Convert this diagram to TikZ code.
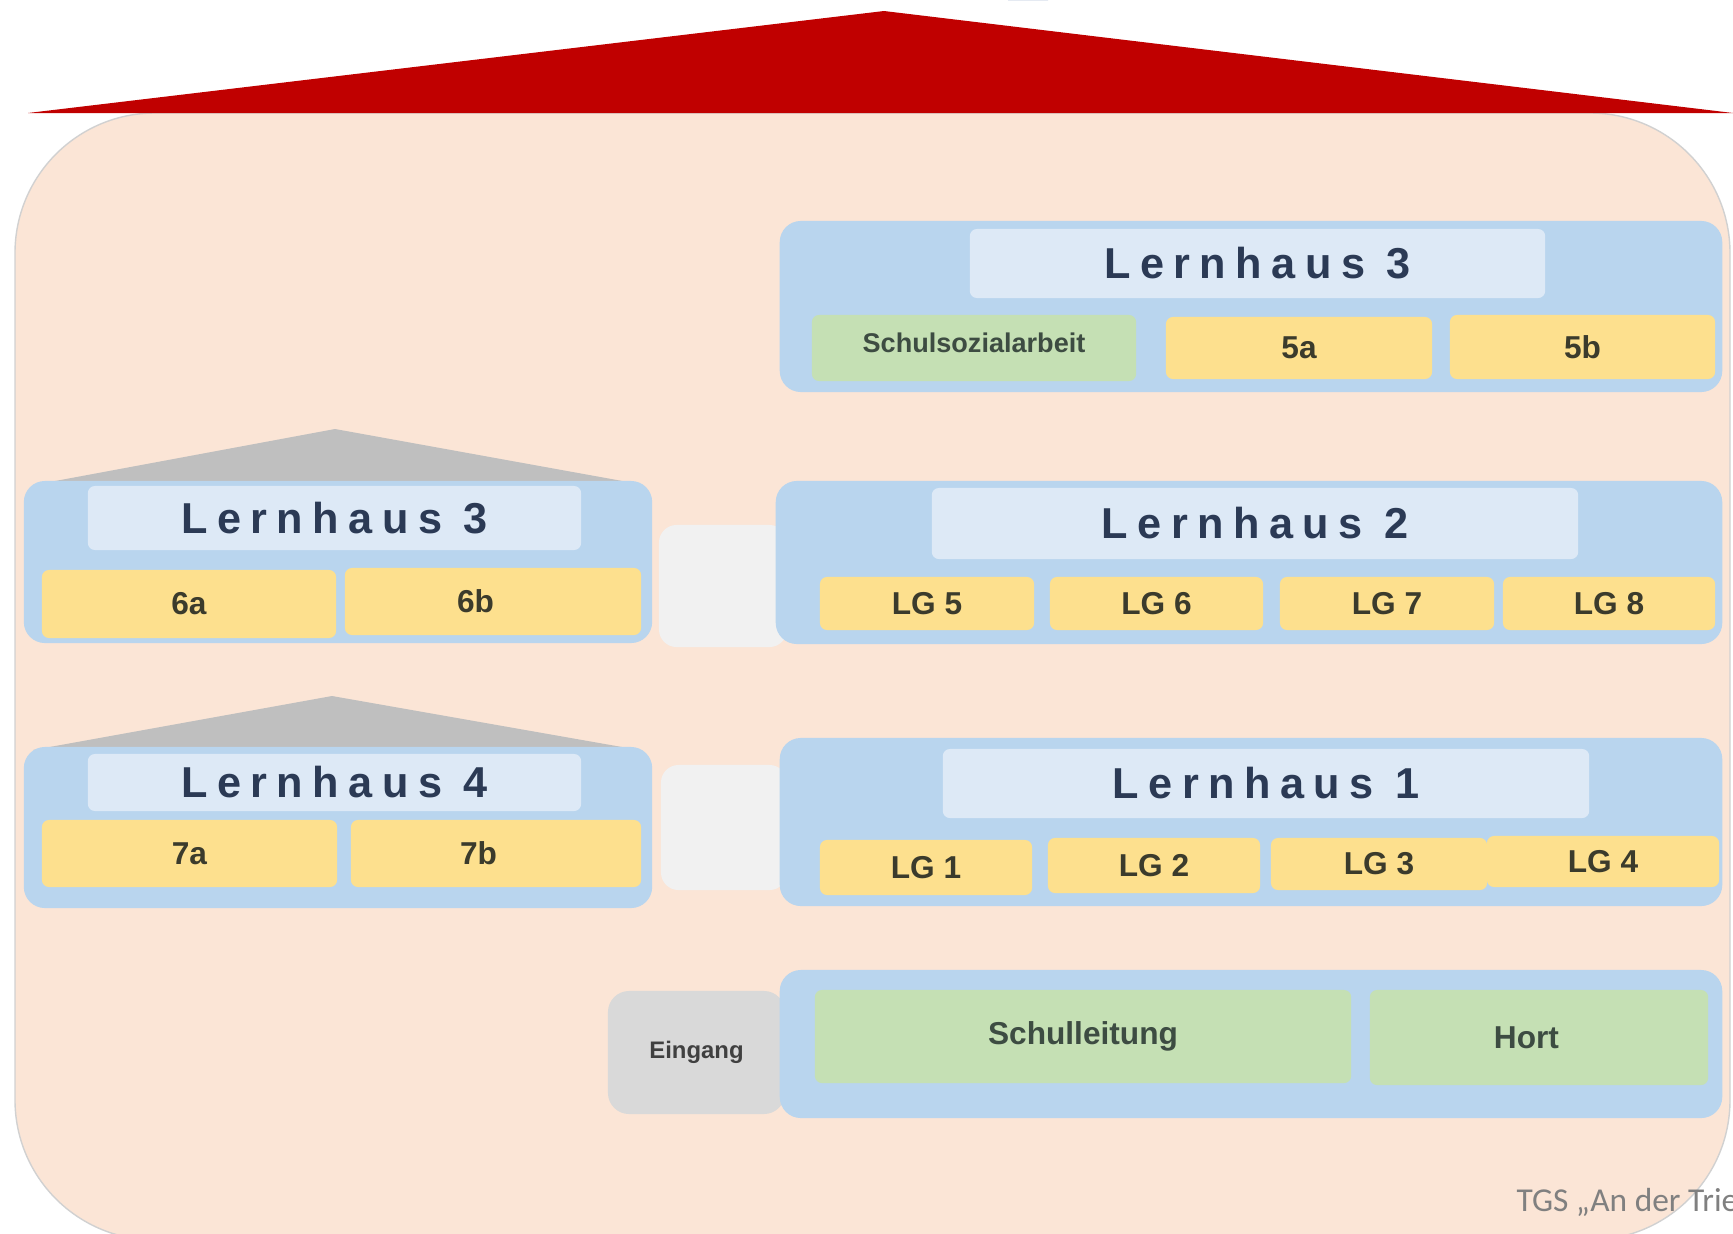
\documentclass[tikz,border=0pt]{standalone}
\usepackage{fontspec}
\setmainfont{Liberation Sans}
\newfontfamily\housefont[LetterSpace=22]{Liberation Sans}
\newfontfamily\notefont{Carlito}
\usepackage{tikz}
\usetikzlibrary{calc}
\definecolor{roofred}{HTML}{C00000}
\definecolor{peach}{HTML}{FBE5D6}
\definecolor{hallblue}{HTML}{B9D5EE}
\definecolor{headblue}{HTML}{DDE9F6}
\definecolor{classyellow}{HTML}{FDE08E}
\definecolor{roomgreen}{HTML}{C5E0B4}
\definecolor{roofgray}{HTML}{BFBFBF}
\definecolor{doorgray}{HTML}{D9D9D9}
\definecolor{linkwhite}{HTML}{F1F1F1}
\definecolor{inkblue}{HTML}{2B3A55}
\definecolor{inkolive}{HTML}{3B3B2C}
\definecolor{inkgreen}{HTML}{3D4C42}
\definecolor{titleblue}{HTML}{2F5597}

\begin{document}
\begin{tikzpicture}[x=0.01cm, y=-0.01cm,
  box/.style={rounded corners=2pt, inner sep=0pt, align=center},
  hall/.style={box, rounded corners=6pt, fill=hallblue},
  head/.style={box, fill=headblue, text=inkblue, font=\housefont\bfseries\fontsize{12.3}{14}\selectfont},
  klasse/.style={box, fill=classyellow, text=inkolive, font=\bfseries\fontsize{9}{11}\selectfont},
  raum/.style={box, fill=roomgreen, text=inkgreen, font=\bfseries\fontsize{9}{11}\selectfont},
  link/.style={box, rounded corners=5pt, fill=linkwhite}]

  \useasboundingbox (0,0) rectangle (1733,1233);
  \clip (0,0) rectangle (1733,1233);

  % ---- ground plan and main roof ----
  \path[fill=peach, draw=black!18, rounded corners=1.4cm] (15,113) rectangle (1730,1240);
  \fill[titleblue] (1008,0) arc[start angle=180, end angle=360, x radius=20, y radius=7] -- cycle;
  \fill[roofred] (28,113) -- (884,11) -- (1733,113) -- cycle;

  % ---- corridors between the houses ----
  \node[link, minimum width=1.28cm, minimum height=1.22cm] (gang1) at (723,586) {};
  \node[link, minimum width=1.26cm, minimum height=1.25cm] (gang2) at (724,827.5) {};

  % ---- Lernhaus 3 (top right) ----
  \node[hall, minimum width=9.42cm, minimum height=1.71cm] (lh3o) at (1251,306.5) {};
  \node[head, minimum width=5.75cm, minimum height=0.69cm] (lh3ohead) at (1257.5,263.5) {Lernhaus 3};
  \node[raum, minimum width=3.24cm, minimum height=0.66cm,
        font=\bfseries\fontsize{7.7}{9}\selectfont] (ssa) at (974,348) {\raisebox{3pt}{Schulsozialarbeit}};
  \node[klasse, minimum width=2.66cm, minimum height=0.62cm] (k5a) at (1299,348) {\raisebox{-2pt}{5a}};
  \node[klasse, minimum width=2.65cm, minimum height=0.64cm] (k5b) at (1582.5,347) {\raisebox{-1pt}{5b}};

  % ---- Lernhaus 3 (left, with roof) ----
  \fill[roofgray] (39,484) -- (335,429) -- (639,484) -- cycle;
  \node[hall, minimum width=6.28cm, minimum height=1.62cm] (lh3l) at (338,562) {};
  \node[head, minimum width=4.93cm, minimum height=0.64cm] (lh3lhead) at (334.5,518) {Lernhaus 3};
  \node[klasse, minimum width=2.94cm, minimum height=0.68cm] (k6a) at (189,604) {\raisebox{-1pt}{6a}};
  \node[klasse, minimum width=2.96cm, minimum height=0.67cm] (k6b) at (493,601.5) {\raisebox{-1pt}{6b}\hspace*{0.35cm}};

  % ---- Lernhaus 2 ----
  \node[hall, minimum width=9.46cm, minimum height=1.63cm] (lh2) at (1249,562.5) {};
  \node[head, minimum width=6.46cm, minimum height=0.71cm] (lh2head) at (1255,523.5) {Lernhaus 2};
  \node[klasse, minimum width=2.14cm, minimum height=0.53cm] (lg5) at (927,603.5) {LG 5};
  \node[klasse, minimum width=2.13cm, minimum height=0.53cm] (lg6) at (1156.5,603.5) {LG 6};
  \node[klasse, minimum width=2.14cm, minimum height=0.53cm] (lg7) at (1387,603.5) {LG 7};
  \node[klasse, minimum width=2.12cm, minimum height=0.53cm] (lg8) at (1609,603.5) {LG 8};

  % ---- Lernhaus 4 (left, with roof) ----
  \fill[roofgray] (33,750) -- (332,696) -- (639,750) -- cycle;
  \node[hall, minimum width=6.28cm, minimum height=1.61cm] (lh4) at (338,827.5) {};
  \node[head, minimum width=4.93cm, minimum height=0.57cm] (lh4head) at (334.5,782.5) {Lernhaus 4};
  \node[klasse, minimum width=2.95cm, minimum height=0.67cm] (k7a) at (189.5,853.5) {7a};
  \node[klasse, minimum width=2.90cm, minimum height=0.67cm] (k7b) at (496,853.5) {7b\hspace*{0.35cm}};

  % ---- Lernhaus 1 ----
  \node[hall, minimum width=9.42cm, minimum height=1.68cm] (lh1) at (1251,822) {};
  \node[head, minimum width=6.46cm, minimum height=0.69cm] (lh1head) at (1266,783.5) {Lernhaus 1};
  \node[klasse, minimum width=2.12cm, minimum height=0.55cm] (lg1) at (926,867.5) {LG 1};
  \node[klasse, minimum width=2.12cm, minimum height=0.55cm] (lg2) at (1154,865.5) {LG 2};
  \node[klasse, minimum width=2.16cm, minimum height=0.52cm] (lg3) at (1379,864) {LG 3};
  \node[klasse, minimum width=2.32cm, minimum height=0.51cm] (lg4) at (1603,861.5) {LG 4};

  % ---- entrance and administration ----
  \node[box, rounded corners=6pt, fill=doorgray, text=black!75,
        minimum width=1.77cm, minimum height=1.23cm,
        font=\bfseries\fontsize{6.8}{8}\selectfont] (eingang) at (696.5,1052.5) {Eingang};
  \node[hall, minimum width=9.42cm, minimum height=1.48cm] (verw) at (1251,1044) {};
  \node[raum, minimum width=5.36cm, minimum height=0.93cm] (sl) at (1083,1036.5) {\raisebox{-1pt}{Schulleitung}};
  \node[raum, minimum width=3.38cm, minimum height=0.95cm] (hort) at (1539,1037.5) {Hort\hspace*{0.25cm}};

  % ---- footer ----
  \node[anchor=west, inner sep=0pt, text=black!50, font=\notefont\fontsize{9.5}{11}\selectfont]
    (fuss) at (1516,1202) {TGS „An der Trieß};

\end{tikzpicture}
\end{document}
